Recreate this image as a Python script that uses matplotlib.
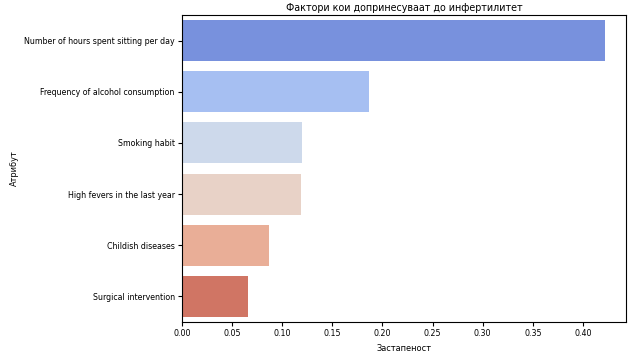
import matplotlib
matplotlib.use("Agg")
import matplotlib.pyplot as plt
import seaborn as sns
import pandas as pd

attributes = [
    "Number of hours spent sitting per day",
    "Frequency of alcohol consumption",
    "Smoking habit",
    "High fevers in the last year",
    "Childish diseases",
    "Surgical intervention",
]
importance = [0.4217, 0.1864, 0.1203, 0.1193, 0.0867, 0.0661]

df = pd.DataFrame({"Атрибут": attributes, "Застапеност": importance})

plt.rcParams["font.family"] = ["DejaVu Sans"]
plt.rcParams["font.stretch"] = "condensed"

fig = plt.figure(figsize=(6.4, 3.57), dpi=100)
ax = fig.add_axes([0.284, 0.098, 0.694, 0.860])
sns.barplot(data=df, x="Застапеност", y="Атрибут", hue="Атрибут",
            palette="coolwarm", legend=False, ax=ax)
ax.set_title("Фактори кои допринесуваат до инфертилитет", fontsize=7.7, pad=3)
ax.set_xlabel("Застапеност", fontsize=6.6)
ax.set_ylabel("Атрибут", fontsize=6.6)
ax.yaxis.set_label_coords(-0.367, 0.5)
ax.tick_params(labelsize=6.3, length=3, pad=2)

fig.savefig("out.png", dpi=100)
